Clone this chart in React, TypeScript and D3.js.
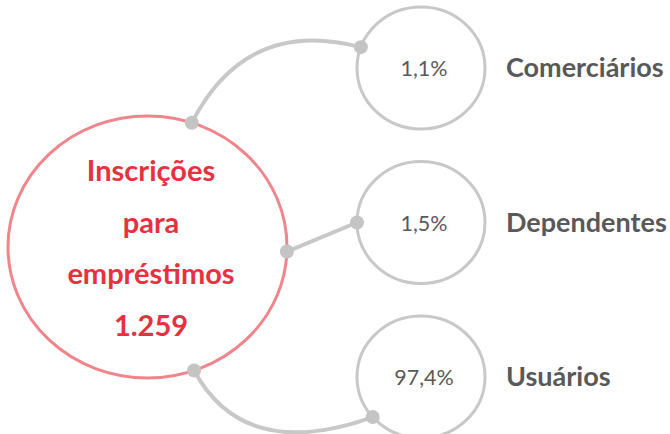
import React, { useEffect, useRef } from "react";
import * as d3 from "d3";

// data
const categories = ["Comerciários", "Dependentes", "Usuários"];
const shares = [1.1, 1.5, 97.4];
const total = 1259;
const titleLines = ["Inscrições", "para", "empréstimos"];

const width = 670;
const height = 434;

// layout constants (angles in degrees on the ellipses, bend = curve control)
const hub = { cx: 147.5, cy: 247, rx: 139.5, ry: 131 };
const node = { cx: 421, rx: 64, ry: 61 };
const hubAngles = [-71.5, 2, 70.5];
const nodeAngles = [200, 180, 139];
const bends = [
  [246, 17],
  null,
  [244, 463],
];

const ptFromAngle = (cx, cy, rx, ry, deg) => {
  const a = (deg * Math.PI) / 180;
  return [cx + rx * Math.cos(a), cy + ry * Math.sin(a)];
};

const ptBr = d3.formatLocale({
  decimal: ",",
  thousands: ".",
  grouping: [3],
  currency: ["R$", ""],
});

const App = () => {
  const ref = useRef(null);

  useEffect(() => {
    const svg = d3.select(ref.current);
    svg.selectAll("*").remove();

    const y = d3.scalePoint().domain(categories).range([68, 377]);
    const pct = ptBr.format(".1f");
    const num = ptBr.format(",");

    // connectors
    categories.forEach((c, i) => {
      const p0 = ptFromAngle(hub.cx, hub.cy, hub.rx, hub.ry, hubAngles[i]);
      const p1 = ptFromAngle(node.cx, y(c), node.rx, node.ry, nodeAngles[i]);
      const p = d3.path();
      p.moveTo(p0[0], p0[1]);
      if (bends[i]) p.quadraticCurveTo(bends[i][0], bends[i][1], p1[0], p1[1]);
      else p.lineTo(p1[0], p1[1]);
      svg
        .append("path")
        .attr("d", p.toString())
        .attr("fill", "none")
        .attr("stroke", "#c8c8c8")
        .attr("stroke-width", 4);
    });

    // big circle
    svg
      .append("ellipse")
      .attr("cx", hub.cx)
      .attr("cy", hub.cy)
      .attr("rx", hub.rx)
      .attr("ry", hub.ry)
      .attr("fill", "none")
      .attr("stroke", "#f2848c")
      .attr("stroke-width", 3);

    const lines = [...titleLines, num(total)];
    svg
      .append("g")
      .selectAll("text")
      .data(lines)
      .join("text")
      .attr("x", 151)
      .attr("y", (d, i) => 181 + i * 51.5)
      .attr("text-anchor", "middle")
      .attr("fill", "#e8313e")
      .attr("font-family", "Lato")
      .attr("font-weight", "bold")
      .attr("font-size", 29)
      .text((d) => d);

    // small circles
    const g = svg
      .append("g")
      .selectAll("g")
      .data(categories)
      .join("g")
      .attr("transform", (d) => `translate(${node.cx},${y(d)})`);

    g.append("ellipse")
      .attr("rx", node.rx)
      .attr("ry", node.ry)
      .attr("fill", "none")
      .attr("stroke", "#c8c8c8")
      .attr("stroke-width", 3);

    g.append("text")
      .attr("x", 3)
      .attr("y", 8)
      .attr("text-anchor", "middle")
      .attr("fill", "#595959")
      .attr("font-family", "Lato")
      .attr("font-size", 21.5)
      .text((d, i) => pct(shares[i]) + "%");

    g.append("text")
      .attr("x", 85)
      .attr("y", 9)
      .attr("fill", "#595959")
      .attr("font-family", "Lato")
      .attr("font-weight", "bold")
      .attr("font-size", 27)
      .text((d) => d);

    // dots on both ends
    categories.forEach((c, i) => {
      const p0 = ptFromAngle(hub.cx, hub.cy, hub.rx, hub.ry, hubAngles[i]);
      const p1 = ptFromAngle(node.cx, y(c), node.rx, node.ry, nodeAngles[i]);
      [p0, p1].forEach((p) =>
        svg
          .append("circle")
          .attr("cx", p[0])
          .attr("cy", p[1])
          .attr("r", 7)
          .attr("fill", "#c4c4c4")
      );
    });
  }, []);

  return (
    <svg
      ref={ref}
      width={width}
      height={height}
      style={{ position: "absolute", left: 0, top: 0, background: "#fff" }}
    />
  );
};

export default App;
